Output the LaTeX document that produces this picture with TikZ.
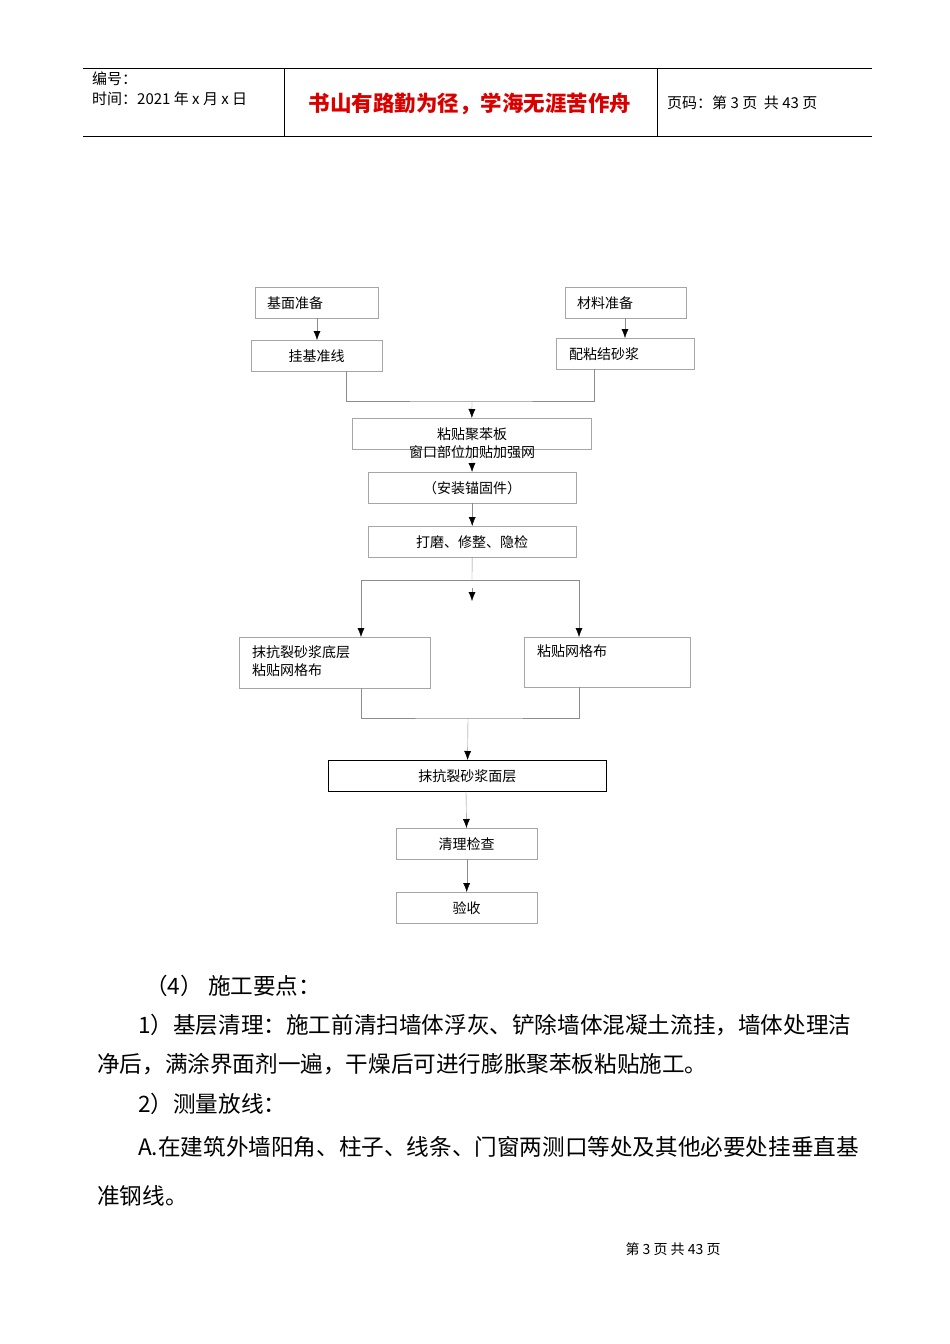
\documentclass[tikz,border=0pt]{standalone}
\usepackage{fontspec}
\setmainfont{Liberation Serif}
\newfontfamily\cjk{Noto Sans CJK SC}
\usetikzlibrary{positioning,arrows.meta}
\begin{document}
\begin{tikzpicture}[x=1pt,y=-1pt,font=\cjk\fontsize{14}{17}\selectfont]
    \tikzstyle{stepbox}=[draw=black!35,inner sep=0pt,anchor=north west]
    \tikzstyle{line}=[draw=black!45]
    \tikzstyle{arrow}=[line,-{Latex[length=9,width=7,black]}]
    \tikzstyle{bodytext}=[anchor=west,inner sep=0pt,font=\cjk\fontsize{22.6}{26}\selectfont]
    \useasboundingbox (0,0) rectangle (950,1344);

    % Header
    \draw (83,68) -- (872,68) (83,136) -- (872,136) (284,68) -- (284,136) (657,68) -- (657,136);
    \node[anchor=west,inner sep=0pt,font=\cjk\fontsize{15}{18}\selectfont] (num) at (92,79) {编号：};
    \node[anchor=west,inner sep=0pt,font=\cjk\fontsize{15}{18}\selectfont] (time) at (92,99) {时间：2021 年 x 月 x 日};
    \node[inner sep=0pt,text=red!85!black,font=\cjk\bfseries\fontsize{21.5}{24}\selectfont] (title) at (470,104) {书山有路勤为径，学海无涯苦作舟};
    \node[anchor=west,inner sep=0pt,font=\cjk\fontsize{15}{18}\selectfont] (page) at (667,103) {页码：第 3 页\ \ 共 43 页};

    % Flow boxes
    \node[stepbox,minimum width=123,minimum height=31] (base) at (255,287) {};
    \node[anchor=west,inner sep=0pt] at ([xshift=12]base.west) {基面准备};
    \node[stepbox,minimum width=121,minimum height=31] (mat) at (565,287) {};
    \node[anchor=west,inner sep=0pt] at ([xshift=12]mat.west) {材料准备};
    \node[stepbox,minimum width=131,minimum height=31] (line) at (251,340) {挂基准线};
    \node[stepbox,minimum width=138,minimum height=31] (mix) at (556,338) {};
    \node[anchor=west,inner sep=0pt] at ([xshift=13]mix.west) {配粘结砂浆};
    \node[stepbox,minimum width=239,minimum height=31] (board) at (352,418) {};
    \node[inner sep=0pt,align=center,font=\cjk\fontsize{14}{18}\selectfont] at (472,443) {粘贴聚苯板\\窗口部位加贴加强网};
    \node[stepbox,minimum width=208,minimum height=31] (anchor) at (368,472) {（安装锚固件）};
    \node[stepbox,minimum width=208,minimum height=31] (grind) at (368,526) {打磨、修整、隐检};
    \node[stepbox,minimum width=191,minimum height=51] (left) at (239,637) {};
    \node[anchor=north west,align=left,inner sep=0pt,font=\cjk\fontsize{14}{18}\selectfont] at (252,645) {抹抗裂砂浆底层\\粘贴网格布};
    \node[stepbox,minimum width=166,minimum height=50] (right) at (524,637) {};
    \node[anchor=north west,inner sep=0pt] at (537,645) {粘贴网格布};
    \node[stepbox,draw=black,thick,minimum width=278,minimum height=31] (face) at (328,760) {抹抗裂砂浆面层};
    \node[stepbox,minimum width=141,minimum height=31] (clean) at (396,828) {清理检查};
    \node[stepbox,minimum width=141,minimum height=31] (accept) at (396,892) {验收};

    % Connectors
    \coordinate (m1) at (472,401);
    \coordinate (m2) at (472,580);
    \coordinate (m3) at (468,718);
    \coordinate (free) at (472,601);
    \draw[arrow] (317,318) -- (317,340);
    \draw[arrow] (625,318) -- (625,338);
    \draw[line] (346,371) |- (m1) -| (594,369);
    \draw[arrow] (m1) -- (board);
    \draw[arrow] (board) -- (anchor);
    \draw[arrow] (anchor) -- (grind);
    \draw[line] (grind) -- (m2);
    \draw[arrow] (472,588) -- (free);
    \draw[arrow] (m2) -| (361,637);
    \draw[arrow] (m2) -| (579,637);
    \draw[line] (361,688) |- (m3) -| (579,687);
    \draw[arrow] (m3) -- (face);
    \draw[arrow] (466,791) -- (clean);
    \draw[arrow] (clean) -- (accept);

    % Body text
    \node[bodytext] (t1) at (145,986) {（4）\ 施工要点：};
    \node[bodytext] (t2) at (138,1025) {1）基层清理：施工前清扫墙体浮灰、铲除墙体混凝土流挂，墙体处理洁};
    \node[bodytext] (t3) at (97,1064) {净后，满涂界面剂一遍，干燥后可进行膨胀聚苯板粘贴施工。};
    \node[bodytext] (t4) at (138,1104) {2）测量放线：};
    \node[bodytext] (t5) at (138,1147) {A.在建筑外墙阳角、柱子、线条、门窗两测口等处及其他必要处挂垂直基};
    \node[bodytext] (t6) at (97,1196) {准钢线。};
    \node[inner sep=0pt] (foot) at (673,1249) {第 3 页 共 43 页};
\end{tikzpicture}
\end{document}
